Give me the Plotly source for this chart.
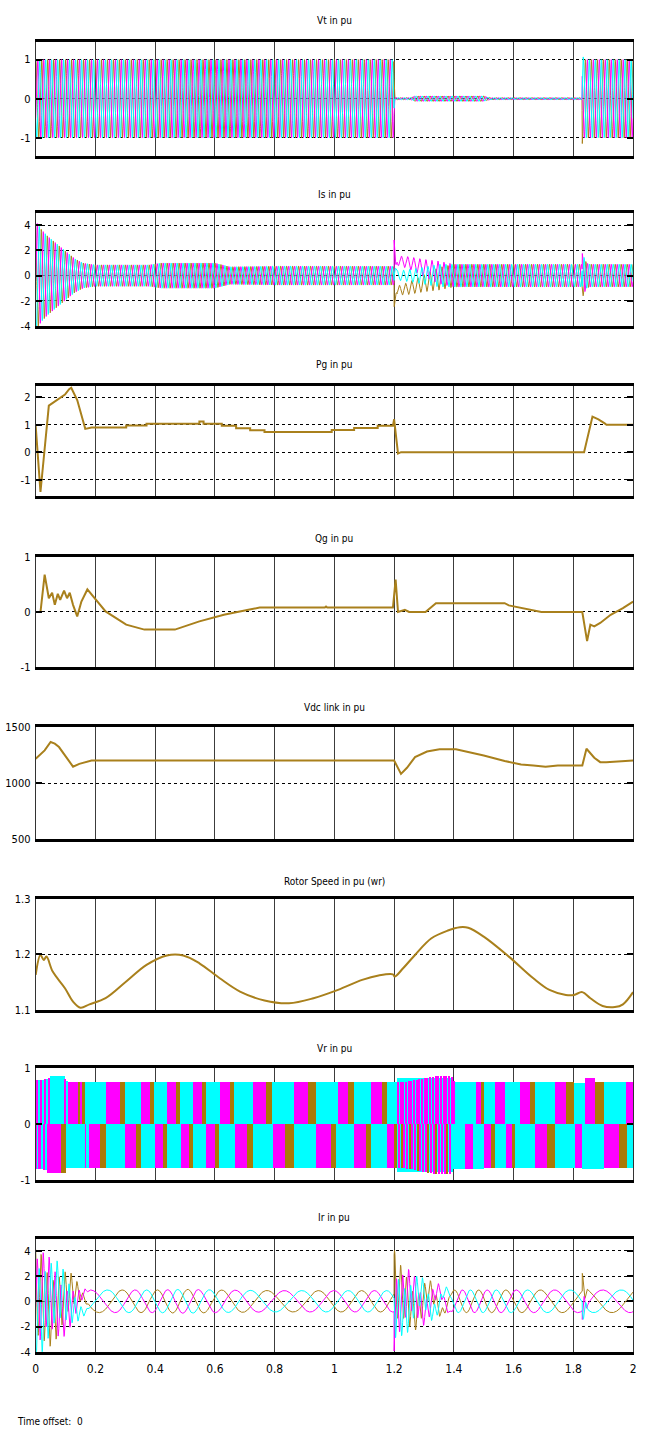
import numpy as np
import plotly.graph_objects as go

# ============================ DATA ============================
# time axis
T_END = 2.0
F_GRID = 50.0

# --- Vt in pu : three-phase stator voltage, amplitude envelope ---
vt_env_t = [0.0, 1.199, 1.2005, 1.25, 1.27, 1.50, 1.52, 1.829, 1.830, 1.836, 2.0]
vt_env_a = [1.0, 1.0, 0.03, 0.03, 0.07, 0.07, 0.03, 0.03, 1.15, 1.0, 1.0]

# --- Is in pu : stator currents ---
is_env_t = [0.0, 0.15, 0.20, 0.38, 0.42, 0.60, 0.65, 0.80, 1.20, 1.25, 1.35, 2.0]
is_env_a = [0.8, 0.8, 0.85, 0.85, 1.0, 1.0, 0.7, 0.75, 0.75, 0.8, 0.9, 0.9]
is_start_t = [0.0, 0.02, 0.04, 0.07, 0.10, 0.13, 0.16, 0.20]
is_start_a = [3.6, 2.9, 2.4, 1.8, 1.2, 0.6, 0.2, 0.0]
is_fault_t = [1.2, 1.203, 1.21, 1.25, 1.30, 1.35]
is_fault_a = [3.0, 1.5, 0.6, 0.4, 0.2, 0.0]
is_rec_t = [1.83, 1.835, 1.845, 1.86]
is_rec_a = [1.5, 1.2, 0.4, 0.0]
is_event_phase_deg = [30.0, 150.0, 90.0]
is_dc_t = [0.0, 1.199, 1.2, 1.21, 1.25, 1.30, 1.35, 1.40, 2.0]
is_dc_a = [0.0, 0.0, 0.6, 1.2, 1.0, 0.6, 0.25, 0.0, 0.0]   # +magenta / -gold

# --- Pg in pu ---
pg_t = [0.0, 0.016, 0.044, 0.057, 0.078, 0.098, 0.112, 0.119, 0.139, 0.160, 0.166, 0.187,
        0.303, 0.303, 0.371, 0.371, 0.548, 0.548, 0.562, 0.562, 0.623, 0.623, 0.671, 0.671,
        0.718, 0.718, 0.766, 0.766, 0.991, 0.991, 1.066, 1.066, 1.145, 1.145, 1.196, 1.200,
        1.213, 1.223, 1.836, 1.864, 1.884, 1.905, 1.911, 2.0]
pg_v = [0.95, -1.45, 1.7, 1.8, 1.95, 2.1, 2.3, 2.35, 1.9, 1.0, 0.85, 0.9,
        0.9, 0.97, 0.97, 1.04, 1.04, 1.12, 1.12, 1.04, 1.04, 0.96, 0.96, 0.87,
        0.87, 0.8, 0.8, 0.74, 0.74, 0.81, 0.81, 0.88, 0.88, 0.96, 0.96, 1.2,
        -0.05, 0.0, 0.0, 1.3, 1.2, 1.05, 1.0, 1.0]

# --- Qg in pu ---
qg_t = [0.0, 0.016, 0.030, 0.044, 0.055, 0.064, 0.074, 0.082, 0.095, 0.105, 0.114, 0.125,
        0.139, 0.153, 0.173, 0.187, 0.234, 0.303, 0.364, 0.466, 0.548, 0.630, 0.671, 0.712,
        0.750, 0.968, 0.972, 0.976, 1.196, 1.205, 1.213, 1.236, 1.250, 1.305, 1.340, 1.570,
        1.584, 1.618, 1.652, 1.693, 1.830, 1.846, 1.857, 1.870, 1.890, 1.925, 1.966, 2.0]
qg_v = [0.0, 0.0, 0.68, 0.25, 0.35, 0.13, 0.33, 0.22, 0.39, 0.25, 0.35, 0.13,
        -0.08, 0.19, 0.41, 0.32, 0.01, -0.23, -0.32, -0.32, -0.17, -0.05, 0.0, 0.04,
        0.08, 0.08, 0.10, 0.08, 0.08, 0.59, 0.0, 0.04, 0.0, 0.0, 0.16, 0.16,
        0.12, 0.08, 0.04, 0.0, 0.0, -0.53, -0.23, -0.26, -0.2, -0.05, 0.07, 0.19]

# --- Vdc link ---
vdc_t = [0.0, 0.030, 0.050, 0.064, 0.078, 0.098, 0.125, 0.146, 0.166, 0.187, 1.200, 1.209,
         1.223, 1.243, 1.270, 1.310, 1.352, 1.407, 1.448, 1.500, 1.570, 1.625, 1.666, 1.707,
         1.748, 1.830, 1.844, 1.870, 1.890, 1.910, 2.0]
vdc_v = [1220, 1295, 1370, 1355, 1325, 1250, 1150, 1175, 1190, 1205, 1205, 1160,
         1085, 1140, 1235, 1285, 1305, 1305, 1280, 1250, 1200, 1170, 1160, 1150,
         1160, 1160, 1310, 1230, 1190, 1190, 1205]

# --- Rotor speed in pu (wr) ---
rs_t = [0.0, 0.016, 0.027, 0.036, 0.057, 0.098, 0.125, 0.150, 0.180, 0.234, 0.303, 0.371,
        0.439, 0.494, 0.548, 0.616, 0.684, 0.766, 0.848, 0.930, 1.012, 1.093, 1.148, 1.196,
        1.202, 1.230, 1.270, 1.325, 1.380, 1.420, 1.448, 1.500, 1.584, 1.666, 1.720, 1.775,
        1.802, 1.830, 1.857, 1.898, 1.939, 1.966, 2.0]
rs_v = [1.163, 1.199, 1.190, 1.196, 1.169, 1.139, 1.115, 1.104, 1.110, 1.121, 1.151, 1.181,
        1.198, 1.198, 1.184, 1.157, 1.133, 1.117, 1.112, 1.121, 1.136, 1.154, 1.162, 1.164,
        1.160, 1.175, 1.199, 1.229, 1.243, 1.249, 1.248, 1.232, 1.196, 1.157, 1.136, 1.127,
        1.127, 1.132, 1.121, 1.107, 1.105, 1.110, 1.132]

# --- Vr in pu : colour blocks (upper half / lower half) ---
vr_up_edges = [0.000, 0.008, 0.016, 0.021, 0.030, 0.035, 0.041, 0.046, 0.096, 0.101, 0.107,
               0.143, 0.148, 0.154, 0.163, 0.233, 0.280, 0.297, 0.352, 0.380, 0.394, 0.440,
               0.468, 0.482, 0.526, 0.556, 0.569, 0.617, 0.650, 0.663, 0.727, 0.769, 0.791,
               0.864, 0.912, 0.936, 1.010, 1.046, 1.066, 1.123, 1.159, 1.174, 1.207,
               1.396, 1.402, 1.473, 1.490, 1.501, 1.537, 1.570, 1.622, 1.655, 1.670, 1.738,
               1.776, 1.802, 1.837, 1.870, 1.901, 1.975, 2.0]
vr_up_cols = ("MCMCMCMC" + "MC" + "MGMG" + "C" + "MGC" * 9 + "C" + "MCMGCMCMGCMGCMGCM")
vr_lo_edges = [0.000, 0.005, 0.010, 0.016, 0.024, 0.029, 0.038, 0.085, 0.099, 0.165, 0.170,
               0.176, 0.214, 0.233, 0.299, 0.336, 0.350, 0.398, 0.424, 0.438, 0.484, 0.512,
               0.526, 0.570, 0.600, 0.614, 0.666, 0.705, 0.727, 0.795, 0.835, 0.865, 0.936,
               0.986, 1.004, 1.066, 1.104, 1.123, 1.176, 1.200, 1.209, 1.396, 1.435, 1.462,
               1.501, 1.523, 1.537, 1.572, 1.592, 1.605, 1.672, 1.710, 1.738, 1.804, 1.828,
               1.903, 1.952, 1.978, 2.0]
vr_lo_cols = ("MCMCMCM" + "GC" + "MCM" + "GC" + "MGC" * 9 + "CMCMGCMGCMGCMCMGC")
vr_up_stripe_t = [1.210, 1.219, 1.228, 1.237, 1.246, 1.255, 1.264, 1.273, 1.282, 1.291, 1.300,
                  1.309, 1.318, 1.327, 1.336, 1.345, 1.354, 1.363, 1.372, 1.381, 1.390]
vr_up_stripe_cols = "MMMMMMMMMMMMMMMMMMMMM"
vr_lo_stripe_t = [1.213, 1.222, 1.231, 1.240, 1.249, 1.258, 1.267, 1.276, 1.285, 1.294,
                  1.303, 1.312, 1.321, 1.330, 1.339, 1.348, 1.357, 1.366, 1.375, 1.384]
vr_lo_stripe_cols = "MGMMGMMGMMMGMMGMMMGM"
vr_stripe_w = 0.0045
vr_env_t = [0.0, 0.04, 0.05, 0.09, 0.10, 0.105, 1.20, 1.25, 1.30, 1.35, 1.39, 1.40, 1.83, 1.84, 1.86, 1.87, 2.0]
vr_env_up = [0.78, 0.80, 0.86, 0.87, 0.80, 0.75, 0.75, 0.76, 0.82, 0.86, 0.86, 0.76, 0.74, 0.84, 0.82, 0.75, 0.75]
vr_env_lo = [0.80, 0.82, 0.88, 0.88, 0.82, 0.78, 0.78, 0.80, 0.86, 0.90, 0.90, 0.80, 0.78, 0.86, 0.84, 0.78, 0.78]

# --- Ir in pu : rotor currents (slip frequency from rotor speed + transients) ---
ir_env_t = [0.0, 0.2, 0.4, 0.5, 0.6, 0.8, 1.2, 1.4, 2.0]
ir_env_a = [0.9, 0.9, 0.9, 0.95, 0.9, 0.85, 0.85, 0.9, 0.9]
ir_start_t = [0.0, 0.03, 0.06, 0.09, 0.12, 0.15, 0.18]
ir_start_a = [3.7, 3.0, 2.5, 2.0, 1.3, 0.5, 0.0]
ir_fault_t = [1.2, 1.21, 1.24, 1.28, 1.32, 1.36, 1.40]
ir_fault_a = [3.6, 2.2, 1.8, 1.3, 0.8, 0.4, 0.0]
ir_rec_t = [1.83, 1.834, 1.842, 1.85]
ir_rec_a = [1.4, 1.2, 0.4, 0.0]
ir_event_phase_deg = [30.0, -30.0, 0.0]

# labels
titles = ["Vt in pu", "Is in pu", "Pg in pu", "Qg in pu", "Vdc link in pu",
          "Rotor Speed in pu (wr)", "Vr in pu", "Ir in pu"]
x_ticks = [0, 0.2, 0.4, 0.6, 0.8, 1.0, 1.2, 1.4, 1.6, 1.8, 2.0]
x_ticktext = ["0", "0.2", "0.4", "0.6", "0.8", "1", "1.2", "1.4", "1.6", "1.8", "2"]
y_ticks = [[-1, 0, 1], [-4, -2, 0, 2, 4], [-1, 0, 1, 2], [-1, 0, 1], [500, 1000, 1500],
           [1.1, 1.2, 1.3], [-1, 0, 1], [-4, -2, 0, 2, 4]]
y_ticktext = [["-1", "0", "1"], ["-4", "-2", "0", "2", "4"], ["-1", "0", "1", "2"],
              ["-1", "0", "1"], ["500", "1000", "1500"], ["1.1", "1.2", "1.3"],
              ["-1", "0", "1"], ["-4", "-2", "0", "2", "4"]]

# ============================ STYLE / LAYOUT ============================
W, H = 645, 1445
GOLD = "#a9801c"
MAG = "#ff00ff"
CYA = "#00ffff"
BLOCK = {"M": MAG, "C": CYA, "G": "#a97a08"}
FONT = "Liberation Sans Narrow, Arial Narrow, DejaVu Sans Condensed, sans-serif"

box_left, box_right = 33, 636
box_top = [36, 209, 383, 556, 728, 901, 1072, 1244]
box_bot = [151, 323, 494, 667, 841, 1013, 1185, 1358]
title_y = [15, 190, 362, 537, 708, 883, 1052, 1223]
y_ranges = [[-1.46, 1.46], [-4, 4.95], [-1.58, 2.43], [-1, 1], [500, 1500],
            [1.1, 1.3], [-1, 1], [-4, 4.95]]

# ============================ SIGNALS ============================
t = np.linspace(0.0, T_END, 8001)
dt = t[1] - t[0]
w = 2 * np.pi * F_GRID
K = [0, 1, 2]  # gold, magenta, cyan


def env(tt, a):
    return np.interp(t, tt, a, left=0.0, right=0.0)


def three(amp, theta):
    return [amp * np.cos(theta - k * 2 * np.pi / 3) for k in K]


# Vt
vt = three(np.interp(t, vt_env_t, vt_env_a), w * t)

# Is
is_sig = three(np.interp(t, is_env_t, is_env_a), w * t)
for (et, ea), ph in zip([(is_start_t, is_start_a), (is_fault_t, is_fault_a), (is_rec_t, is_rec_a)],
                        is_event_phase_deg):
    comp = three(env(et, ea), w * (t - et[0]) + np.deg2rad(ph))
    is_sig = [a + b for a, b in zip(is_sig, comp)]
dc = np.interp(t, is_dc_t, is_dc_a)
is_sig[0] = is_sig[0] - dc
is_sig[1] = is_sig[1] + dc

# Ir
speed = np.interp(t, rs_t, rs_v)
theta_r = 2 * np.pi * np.cumsum(F_GRID * (speed - 1.0)) * dt
ir_sig = three(np.interp(t, ir_env_t, ir_env_a), theta_r)
for (et, ea), ph in zip([(ir_start_t, ir_start_a), (ir_fault_t, ir_fault_a), (ir_rec_t, ir_rec_a)],
                        ir_event_phase_deg):
    comp = three(env(et, ea), w * (t - et[0]) + np.deg2rad(ph))
    ir_sig = [a + b for a, b in zip(ir_sig, comp)]

# ============================ FIGURE ============================
fig = go.Figure()


def axn(i):
    return "" if i == 0 else str(i + 1)


def add_phases(i, sig):
    for k, col in zip(K, [GOLD, MAG, CYA]):
        fig.add_trace(go.Scatter(x=t, y=sig[k], mode="lines", line=dict(color=col, width=1),
                                 xaxis="x" + axn(i), yaxis="y" + axn(i), showlegend=False,
                                 hoverinfo="skip"))


def add_line(i, x, y, shape="linear"):
    fig.add_trace(go.Scatter(x=x, y=y, mode="lines", line=dict(color=GOLD, width=2, shape=shape),
                             xaxis="x" + axn(i), yaxis="y" + axn(i), showlegend=False,
                             hoverinfo="skip"))


def add_blocks(i, edges, cols, env_a, sign):
    e = np.asarray(edges)
    n = min(len(e) - 1, len(cols))
    x0, x1 = e[:n], e[1:n + 1]
    mid = (x0 + x1) / 2
    h = np.interp(mid, vr_env_t, env_a)
    base = 0.006 * sign
    fig.add_trace(go.Bar(x=mid, y=sign * h - base, base=base, width=(x1 - x0),
                         marker=dict(color=[BLOCK[c] for c in cols[:n]], line=dict(width=0)),
                         xaxis="x" + axn(i), yaxis="y" + axn(i), showlegend=False,
                         hoverinfo="skip"))


def add_stripes(i, starts, cols, env_a, sign):
    s = np.asarray(starts)
    mid = s + vr_stripe_w / 2
    h = np.interp(mid, vr_env_t, env_a)
    base = 0.006 * sign
    fig.add_trace(go.Bar(x=mid, y=sign * h - base, base=base, width=[vr_stripe_w] * len(s),
                         marker=dict(color=[BLOCK[c] for c in cols[:len(s)]], line=dict(width=0)),
                         xaxis="x" + axn(i), yaxis="y" + axn(i), showlegend=False,
                         hoverinfo="skip"))


add_phases(0, vt)
add_phases(1, is_sig)
add_line(2, pg_t, pg_v)
add_line(3, qg_t, qg_v)
add_line(4, vdc_t, vdc_v)
add_line(5, rs_t, rs_v, shape="spline")
add_blocks(6, vr_up_edges, vr_up_cols, vr_env_up, 1)
add_blocks(6, vr_lo_edges, vr_lo_cols, vr_env_lo, -1)
add_stripes(6, vr_up_stripe_t, vr_up_stripe_cols, vr_env_up, 1)
add_stripes(6, vr_lo_stripe_t, vr_lo_stripe_cols, vr_env_lo, -1)
add_phases(7, ir_sig)

layout = dict(
    width=W, height=H, margin=dict(l=0, r=0, t=0, b=0),
    paper_bgcolor="white", plot_bgcolor="white",
    barmode="overlay", bargap=0,
    font=dict(family=FONT, size=11, color="black"),
    showlegend=False,
)
annotations = []
xd = [box_left / W, box_right / W]
for i in range(8):
    a = axn(i)
    layout["xaxis" + a] = dict(
        domain=xd, range=[0, T_END], anchor="y" + a,
        tickvals=x_ticks, ticktext=x_ticktext, showticklabels=(i == 7),
        showgrid=True, gridcolor="#3c3c3c", gridwidth=1,
        showline=True, linecolor="black", linewidth=3, mirror=True,
        zeroline=False, ticks="", ticklabelstandoff=4,
        tickfont=dict(family=FONT, size=12, color="black"),
    )
    layout["yaxis" + a] = dict(
        domain=[1 - box_bot[i] / H, 1 - box_top[i] / H], range=y_ranges[i], anchor="x" + a,
        tickvals=y_ticks[i], ticktext=y_ticktext[i],
        showgrid=True, gridcolor="black", gridwidth=1, griddash="dot",
        showline=True, linecolor="#333333", linewidth=1, mirror="ticks",
        ticks="inside", ticklen=6, tickwidth=2, tickcolor="black",
        zeroline=False, ticklabelstandoff=2,
        tickfont=dict(family=FONT, size=11, color="black"),
    )
    annotations.append(dict(text=titles[i], x=(box_left + box_right) / 2 / W, y=1 - title_y[i] / H,
                            xref="paper", yref="paper", xanchor="center", yanchor="middle",
                            showarrow=False, font=dict(family=FONT, size=10, color="black")))

annotations.append(dict(text="Time offset:  0", x=12 / W, y=1 - 1428 / H, xref="paper", yref="paper",
                        xanchor="left", yanchor="middle", showarrow=False,
                        font=dict(family=FONT, size=10, color="black")))
layout["annotations"] = annotations
fig.update_layout(**layout)

fig.write_html("out.html")
